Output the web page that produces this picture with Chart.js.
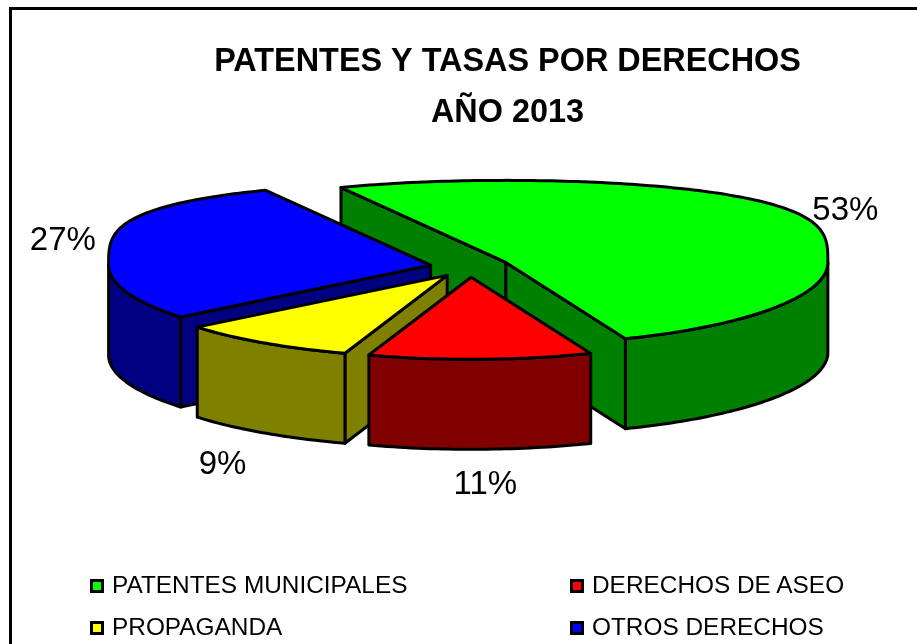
<!DOCTYPE html>
<html lang="es">
<head>
<meta charset="utf-8">
<title>Patentes y tasas por derechos</title>
<script src="https://cdn.jsdelivr.net/npm/chart.js@4/dist/chart.umd.min.js"></script>
<style>
  html,body{margin:0;padding:0;background:#fff;overflow:hidden}
  #wrap{position:relative;width:917px;height:644px;font-family:"Liberation Sans",Arial,sans-serif;color:#000}
  #wrap canvas{position:absolute;left:0;top:0}
  #frame{position:absolute;left:9px;top:7px;right:-5px;bottom:-5px;border:3px solid #000;pointer-events:none}
  .leg{position:absolute;font-size:24.4px;line-height:28px;white-space:nowrap;padding-left:22px}
  .leg i{position:absolute;left:0;top:8px;width:8px;height:8px;border:3px solid #000}
</style>
</head>
<body>
<div id="wrap">
  <canvas id="pie" width="917" height="644"></canvas>
  <div id="frame"></div>
</div>
<script>
/* ---------- DATA ---------- */
const categories = ['PATENTES MUNICIPALES','DERECHOS DE ASEO','PROPAGANDA','OTROS DERECHOS'];
const shares = [52.5,11.2,9,27.3];   // labels show these rounded
const titleLines = ['PATENTES Y TASAS POR DERECHOS','AÑO 2013'];
const topColors = ['#00ff00','#ff0000','#ffff00','#0000ff'];
const sideColors = ['#008000','#800000','#808000','#000080'];

/* ---------- LAYOUT ---------- */
const pieX = 470, pieY = 267;    // where the flattened pie centre lands
const pieR = 322, tilt = 0.255, depth = 90, explode = 40;
const backBulge = 0.6;           // the far rim sits flatter than a true ellipse
const labelReach = 1.1;
const labelNudge = [[22,-12],[4,27],[-23,25],[-19,-9]];
const legendSpots = [[90,571],[570,571],[90,613],[570,613]];

/* ---------- 3D PIE ---------- */
class Pie3D extends Chart.DoughnutController{
  draw(){
    const ctx=this.chart.ctx;
    const slices=this._cachedMeta.data.map((arc,i)=>{
      const mid=(arc.startAngle+arc.endAngle)/2;
      return {arc,i,ox:pieX+Math.cos(mid)*explode,oy:pieY+Math.sin(mid)*explode*tilt};
    }).sort((a,b)=>a.oy-b.oy);   // back to front
    ctx.save();
    ctx.lineJoin='round';
    slices.forEach(s=>drawSlice(ctx,s));
    ctx.restore();
  }
}
Pie3D.id='pie3d';
Pie3D.defaults=Chart.DoughnutController.defaults;
Pie3D.overrides=Chart.DoughnutController.overrides;
Chart.register(Pie3D);

function paint(ctx,fill,line){
  ctx.fillStyle=fill; ctx.fill();
  ctx.strokeStyle='#000'; ctx.lineWidth=line; ctx.stroke();
}

function rimPoint(ox,oy,r,angle){
  const s=Math.sin(angle);
  const dy=s<0 ? -Math.pow(-s,backBulge) : s;
  return [ox+Math.cos(angle)*r, oy+dy*r*tilt];
}

function traceRim(ctx,ox,oy,r,from,to){
  const steps=Math.max(2,Math.ceil(Math.abs(to-from)/0.02));
  for(let n=0;n<=steps;n++){
    const p=rimPoint(ox,oy,r,from+(to-from)*n/steps);
    ctx.lineTo(p[0],p[1]);
  }
}

function cutFace(ctx,ox,oy,r,angle,fill,line){
  const [ex,ey]=rimPoint(ox,oy,r,angle);
  ctx.beginPath();
  ctx.moveTo(ox,oy); ctx.lineTo(ex,ey); ctx.lineTo(ex,ey+depth); ctx.lineTo(ox,oy+depth);
  ctx.closePath();
  paint(ctx,fill,line);
}

function drawSlice(ctx,{arc,i,ox,oy}){
  const {startAngle:a0,endAngle:a1,outerRadius:r}=arc;
  const line=arc.options.borderWidth, side=sideColors[i];
  // only the cut faces turned to the viewer
  if(Math.cos(a0)<0) cutFace(ctx,ox,oy,r,a0,side,line);
  if(Math.cos(a1)>0) cutFace(ctx,ox,oy,r,a1,side,line);
  // outer rim, front half only
  const f0=Math.max(a0,0), f1=Math.min(a1,Math.PI);
  if(f1>f0){
    ctx.beginPath();
    traceRim(ctx,ox,oy,r,f0,f1);
    traceRim(ctx,ox,oy+depth,r,f1,f0);
    ctx.closePath();
    paint(ctx,side,line);
  }
  ctx.beginPath();
  ctx.moveTo(ox,oy);
  traceRim(ctx,ox,oy,r,a0,a1);
  ctx.closePath();
  paint(ctx,arc.options.backgroundColor,line);
}

/* ---------- PERCENT LABELS ---------- */
const percentLabels={
  id:'percentLabels',
  afterDraw(chart){
    const ctx=chart.ctx, total=shares.reduce((a,b)=>a+b,0);
    ctx.save();
    ctx.font='33px "Liberation Sans", Arial, sans-serif';
    ctx.fillStyle='#000'; ctx.textAlign='center'; ctx.textBaseline='middle';
    chart.getDatasetMeta(0).data.forEach((arc,i)=>{
      const mid=(arc.startAngle+arc.endAngle)/2, reach=explode+arc.outerRadius*labelReach;
      const x=pieX+Math.cos(mid)*reach+labelNudge[i][0];
      const y=pieY+Math.sin(mid)*reach*tilt+(Math.sin(mid)>0?depth:0)+labelNudge[i][1];
      ctx.fillText(Math.round(shares[i]/total*100)+'%',x,y);
    });
    ctx.restore();
  }
};

/* ---------- MAIN ---------- */
new Chart(document.getElementById('pie'),{
  type:'pie3d',
  data:{labels:categories,datasets:[{data:shares,backgroundColor:topColors,borderColor:'#000',borderWidth:3,offset:explode}]},
  options:{
    responsive:false,animation:false,
    radius:pieR,rotation:-30.8,
    layout:{padding:{left:98}},
    plugins:{
      legend:{display:false},
      tooltip:{enabled:false},
      title:{display:true,text:titleLines,color:'#000',padding:{top:37,bottom:0},
        font:{family:'"Liberation Sans", Arial, sans-serif',size:32.4,weight:'bold',lineHeight:1.56}}
    }
  },
  plugins:[percentLabels]
});

// legend in two fixed columns
categories.forEach((name,i)=>{
  const el=document.createElement('div');
  el.className='leg';
  el.style.left=legendSpots[i][0]+'px';
  el.style.top=legendSpots[i][1]+'px';
  el.innerHTML=`<i style="background:${topColors[i]}"></i>${name}`;
  document.getElementById('wrap').appendChild(el);
});
</script>
</body>
</html>
